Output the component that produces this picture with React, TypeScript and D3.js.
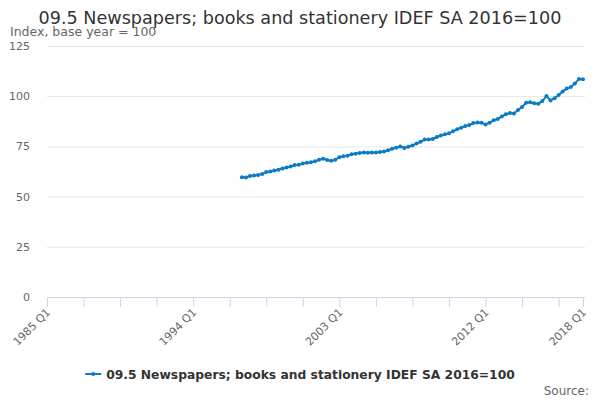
import { useEffect, useRef } from 'react'
import * as d3 from 'd3'

const title = '09.5 Newspapers; books and stationery IDEF SA 2016=100'
const seriesName = '09.5 Newspapers; books and stationery IDEF SA 2016=100'
const yAxisTitle = 'Index, base year = 100'

// quarterly index values, 1997 Q1 .. 2018 Q1
const startYear = 1997
const values = [
  59.6, 59.5, 60.3, 60.5,
  60.8, 61.3, 62.2, 62.5,
  63.0, 63.4, 64.0, 64.5,
  65.0, 65.7, 65.9, 66.5,
  66.8, 67.1, 67.6, 68.3,
  68.8, 68.2, 67.8, 68.3,
  69.6, 70.1, 70.4, 71.1,
  71.4, 71.7, 72.0, 71.8,
  71.9, 72.0, 72.2, 72.5,
  73.1, 73.8, 74.3, 74.9,
  74.2, 74.8, 75.5, 76.4,
  77.3, 78.4, 78.4, 78.7,
  79.7, 80.4, 81.0, 81.5,
  82.5, 83.6, 84.3, 85.1,
  85.6, 86.6, 86.9, 86.8,
  85.9, 86.8, 88.0, 88.7,
  89.9, 91.0, 91.6, 91.4,
  93.1, 94.6, 96.8, 97.0,
  96.5, 96.3, 97.6, 100.1,
  97.9, 99.0, 100.6, 102.4,
  103.8, 104.6, 106.3, 108.6,
  108.5,
]

const yTicks = [0, 25, 50, 75, 100, 125]
const axisStart = 1985 // 1985 Q1
const axisEnd = 2018 // 2018 Q1
const labelledYears = [1985, 1994, 2003, 2012, 2018]

const W = 600
const H = 400
const margin = { top: 46, right: 17, bottom: 103, left: 47 }

// quarter index relative to 1985 Q1
const qIndex = (year: number, q: number) => (year - axisStart) * 4 + (q - 1)

export default function App() {
  const svgRef = useRef<SVGSVGElement>(null)

  useEffect(() => {
    if (!svgRef.current) return
    const svg = d3.select(svgRef.current)
    svg.selectAll('*').remove()

    const font = '"DejaVu Sans", sans-serif'
    const innerW = W - margin.left - margin.right
    const innerH = H - margin.top - margin.bottom

    const x = d3.scaleLinear()
      .domain([0, qIndex(axisEnd, 1)])
      .range([margin.left, margin.left + innerW])
    const y = d3.scaleLinear().domain([0, 125]).range([margin.top + innerH, margin.top])

    svg.append('rect').attr('width', W).attr('height', H).attr('fill', '#fff')

    // title
    svg.append('text')
      .attr('x', W / 2).attr('y', 24)
      .attr('text-anchor', 'middle')
      .attr('font-family', font).attr('font-size', 17.6)
      .attr('fill', '#333')
      .text(title)

    svg.append('text')
      .attr('x', 10).attr('y', 36)
      .attr('font-family', font).attr('font-size', 12.5)
      .attr('fill', '#666')
      .text(yAxisTitle)

    // gridlines + y labels
    const yg = svg.append('g')
    yTicks.forEach(t => {
      if (t > 0) {
        yg.append('line')
          .attr('x1', margin.left).attr('x2', margin.left + innerW + 2)
          .attr('y1', y(t) + 0.5).attr('y2', y(t) + 0.5)
          .attr('stroke', '#e6e6e6')
      }
      yg.append('text')
        .attr('x', 30).attr('y', y(t) + 4)
        .attr('text-anchor', 'end')
        .attr('font-family', font).attr('font-size', 11)
        .attr('fill', '#666')
        .text(t)
    })

    // x axis
    const xg = svg.append('g')
    xg.append('line')
      .attr('x1', margin.left).attr('x2', margin.left + innerW + 2)
      .attr('y1', y(0) + 0.5).attr('y2', y(0) + 0.5)
      .attr('stroke', '#ccd6eb')
    const tickPos = d3.range(0, qIndex(axisEnd, 1), 9).concat([qIndex(axisEnd, 1)])
    tickPos.forEach(p => {
      xg.append('line')
        .attr('x1', x(p) + 0.5).attr('x2', x(p) + 0.5)
        .attr('y1', y(0)).attr('y2', y(0) + 10)
        .attr('stroke', '#ccd6eb')
    })
    labelledYears.forEach(yr => {
      const px = x(qIndex(yr, 1))
      xg.append('text')
        .attr('transform', `translate(${px + 4},${y(0) + 16}) rotate(-45)`)
        .attr('text-anchor', 'end')
        .attr('font-family', font).attr('font-size', 11)
        .attr('fill', '#666')
        .text(`${yr} Q1`)
    })

    // series
    const color = '#0b7bc6'
    const pts = values.map((v, i) => ({ i: qIndex(startYear, 1) + i, v }))
    const line = d3.line<{ i: number; v: number }>().x(d => x(d.i)).y(d => y(d.v))
    svg.append('path')
      .datum(pts)
      .attr('d', line)
      .attr('fill', 'none')
      .attr('stroke', color)
      .attr('stroke-width', 2)
    svg.append('g').selectAll('circle')
      .data(pts)
      .join('circle')
      .attr('cx', d => x(d.i))
      .attr('cy', d => y(d.v))
      .attr('r', 2)
      .attr('fill', color)

    // legend
    const lg = svg.append('g')
    const legendText = lg.append('text')
      .attr('y', 379)
      .attr('font-family', font).attr('font-size', 12.3)
      .attr('font-weight', 'bold')
      .attr('fill', '#333')
      .text(seriesName)
    const tw = (legendText.node() as SVGTextElement).getComputedTextLength()
    const total = 16 + 5 + tw
    const lx = (W - total) / 2
    legendText.attr('x', lx + 21)
    lg.append('line')
      .attr('x1', lx).attr('x2', lx + 16)
      .attr('y1', 374).attr('y2', 374)
      .attr('stroke', color).attr('stroke-width', 2)
    lg.append('circle').attr('cx', lx + 8).attr('cy', 374).attr('r', 2).attr('fill', color)

    svg.append('text')
      .attr('x', 589).attr('y', 395)
      .attr('text-anchor', 'end')
      .attr('font-family', font).attr('font-size', 12)
      .attr('fill', '#666')
      .text('Source:')
  }, [])

  return (
    <div style={{ position: 'absolute', left: 0, top: 0 }}>
      <svg ref={svgRef} width={W} height={H} style={{ display: 'block' }} />
    </div>
  )
}
